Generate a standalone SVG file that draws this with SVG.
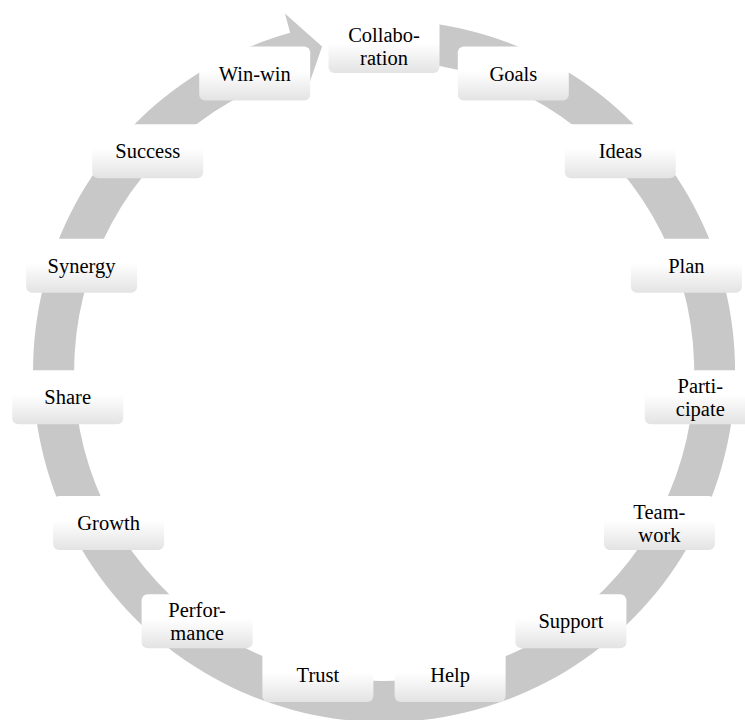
<svg xmlns="http://www.w3.org/2000/svg" width="745" height="720" viewBox="0 0 745 720">
<defs>
<linearGradient id="boxg" x1="0" y1="0" x2="0" y2="1">
<stop offset="0" stop-color="#ffffff"/>
<stop offset="0.45" stop-color="#ffffff"/>
<stop offset="1" stop-color="#e3e3e3"/>
</linearGradient>
<style>
.box{fill:url(#boxg);}
.lbl{font-family:"Liberation Serif","Times New Roman",serif;font-size:20.5px;fill:#000;text-anchor:middle;}
.ring{fill:#c8c8c8;}
</style>
</defs>
<rect width="745" height="720" fill="#ffffff"/>
<g id="connectors">
<path class="ring" d="M402.4,20.5 A351,351 0 1 1 290.2,32.8 L284.9,13.5 L322.1,46.4 L306.5,91.6 L301.2,72.3 A310,310 0 1 0 400.2,61.4 Z"/>
</g>
<g id="n-collaboration"><rect class="box" x="328.5" y="19" width="111" height="54" rx="6"/><text class="lbl" x="384" y="41.5">Collabo-</text><text class="lbl" x="384" y="64.5">ration</text></g>
<g id="n-goals"><rect class="box" x="457.8" y="46.5" width="111" height="54" rx="6"/><text class="lbl" x="513.3" y="80.5">Goals</text></g>
<g id="n-ideas"><rect class="box" x="564.8" y="124.2" width="111" height="54" rx="6"/><text class="lbl" x="620.3" y="158.2">Ideas</text></g>
<g id="n-plan"><rect class="box" x="630.9" y="238.7" width="111" height="54" rx="6"/><text class="lbl" x="686.4" y="272.7">Plan</text></g>
<g id="n-participate"><rect class="box" x="644.8" y="370.2" width="111" height="54" rx="6"/><text class="lbl" x="700.3" y="392.7">Parti-</text><text class="lbl" x="700.3" y="415.7">cipate</text></g>
<g id="n-teamwork"><rect class="box" x="603.9" y="496" width="111" height="54" rx="6"/><text class="lbl" x="659.4" y="518.5">Team-</text><text class="lbl" x="659.4" y="541.5">work</text></g>
<g id="n-support"><rect class="box" x="515.4" y="594.3" width="111" height="54" rx="6"/><text class="lbl" x="570.9" y="628.3">Support</text></g>
<g id="n-help"><rect class="box" x="394.6" y="648.1" width="111" height="54" rx="6"/><text class="lbl" x="450.1" y="682.1">Help</text></g>
<g id="n-trust"><rect class="box" x="262.4" y="648.1" width="111" height="54" rx="6"/><text class="lbl" x="317.9" y="682.1">Trust</text></g>
<g id="n-performance"><rect class="box" x="141.6" y="594.3" width="111" height="54" rx="6"/><text class="lbl" x="197.1" y="616.8">Perfor-</text><text class="lbl" x="197.1" y="639.8">mance</text></g>
<g id="n-growth"><rect class="box" x="53.1" y="496" width="111" height="54" rx="6"/><text class="lbl" x="108.6" y="530">Growth</text></g>
<g id="n-share"><rect class="box" x="12.2" y="370.2" width="111" height="54" rx="6"/><text class="lbl" x="67.7" y="404.2">Share</text></g>
<g id="n-synergy"><rect class="box" x="26.1" y="238.7" width="111" height="54" rx="6"/><text class="lbl" x="81.6" y="272.7">Synergy</text></g>
<g id="n-success"><rect class="box" x="92.2" y="124.2" width="111" height="54" rx="6"/><text class="lbl" x="147.7" y="158.2">Success</text></g>
<g id="n-winwin"><rect class="box" x="199.2" y="46.5" width="111" height="54" rx="6"/><text class="lbl" x="254.7" y="80.5">Win-win</text></g>
</svg>
